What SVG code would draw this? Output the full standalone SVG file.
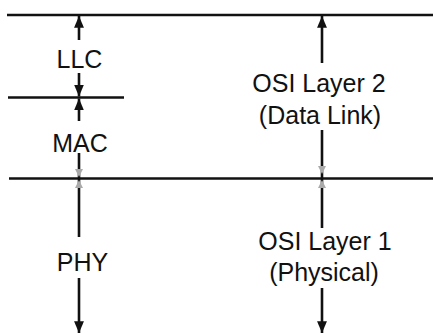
<svg xmlns="http://www.w3.org/2000/svg" width="433" height="333" viewBox="0 0 433 333">
<style>
.t{font-family:"Liberation Sans",Arial,sans-serif;font-size:25px;fill:#111;text-anchor:middle}
.h{stroke:#111;stroke-width:2.3;fill:none}
.a{stroke:#111;stroke-width:2.6;fill:none}
.f{fill:#aaa}
</style>
<defs>
<marker id="ah" viewBox="0 0 12 10" refX="12" refY="5" markerWidth="4.6" markerHeight="3.8" markerUnits="strokeWidth" orient="auto">
<path d="M0,0 L12,5 L0,10 Z" fill="#111"/>
</marker>
</defs>
<g id="boundaries">
<line class="h" x1="7" y1="15" x2="433" y2="15"/>
<line class="h" x1="8" y1="97.5" x2="124" y2="97.5"/>
<line class="h" x1="9" y1="178.5" x2="433" y2="178.5"/>
</g>
<g id="connectors">
<line class="a" x1="79" y1="40" x2="79" y2="16" marker-end="url(#ah)"/>
<line class="a" x1="79" y1="73" x2="79" y2="96.5" marker-end="url(#ah)"/>
<line class="a" x1="79" y1="121" x2="79" y2="98.5" marker-end="url(#ah)"/>
<line class="a" x1="79" y1="153" x2="79" y2="237"/>
<path class="f" d="M75,169 L83,169 L79,177 Z M75,188 L83,188 L79,180 Z"/>
<line class="a" x1="79" y1="278" x2="79" y2="333" marker-end="url(#ah)"/>
<line class="a" x1="322" y1="63" x2="322" y2="16" marker-end="url(#ah)"/>
<line class="a" x1="322" y1="130" x2="322" y2="228"/>
<path class="f" d="M318,166 L326,166 L322,174 Z M318,188 L326,188 L322,180 Z"/>
<line class="a" x1="322" y1="288" x2="322" y2="333" marker-end="url(#ah)"/>
</g>
<g id="llc"><text class="t" x="79.5" y="68">LLC</text></g>
<g id="mac"><text class="t" x="80" y="152">MAC</text></g>
<g id="phy"><text class="t" x="82.5" y="271">PHY</text></g>
<g id="osi2"><text class="t" x="319" y="92">OSI Layer 2</text><text class="t" x="320" y="124">(Data Link)</text></g>
<g id="osi1"><text class="t" x="325" y="250">OSI Layer 1</text><text class="t" x="324" y="281">(Physical)</text></g>
</svg>
